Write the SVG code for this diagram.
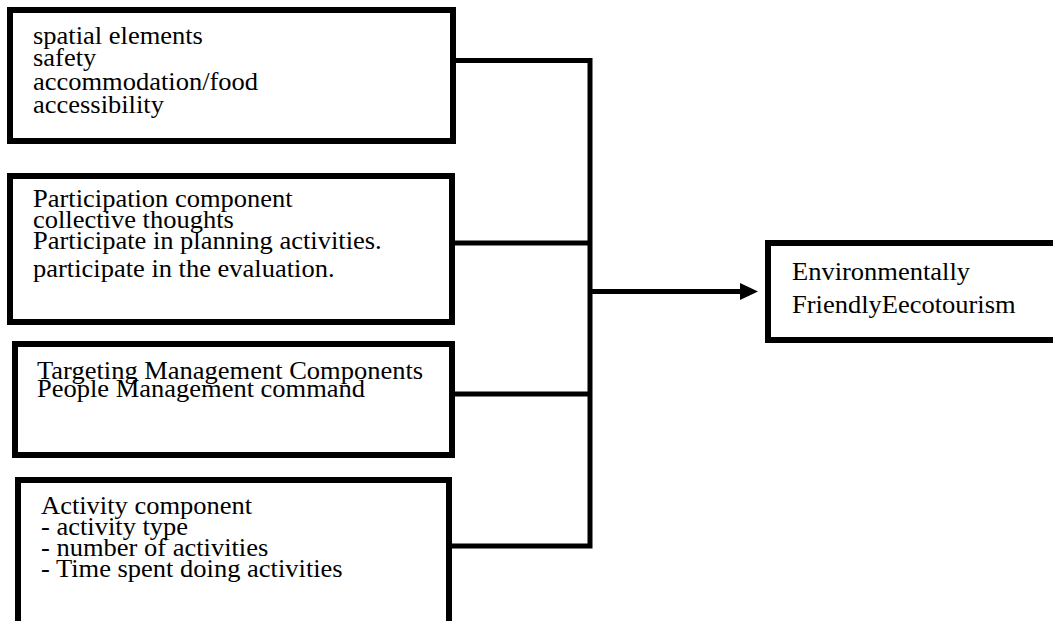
<svg xmlns="http://www.w3.org/2000/svg" width="1053" height="621" viewBox="0 0 1053 621">
<style>
.box{fill:#fff;stroke:#000;stroke-width:6}
.lbl{font-family:"Liberation Serif","Times New Roman",serif;font-size:25px;fill:#000}
.conn{fill:none;stroke:#000;stroke-width:5;stroke-linejoin:miter;stroke-linecap:butt}
</style>
<defs>
<marker id="arr" markerUnits="userSpaceOnUse" markerWidth="18" markerHeight="17" refX="2" refY="8.5" orient="auto">
<path d="M0,0 L18,8.5 L0,17 z" fill="#000"/>
</marker>
</defs>
<rect width="1053" height="621" fill="#fff"/>
<g id="connectors">
<path class="conn" d="M456 60.5 H590 V546 H452"/>
<path class="conn" d="M455 243 H590"/>
<path class="conn" d="M455 394 H590"/>
<path class="conn" d="M590 291.5 H742" marker-end="url(#arr)"/>
</g>
<g id="node1">
<rect class="box" x="10" y="10" width="443" height="131"/>
<g transform="translate(33,0) scale(1.06,1)" class="lbl">
<text x="0" y="44">spatial elements</text>
<text x="0" y="66">safety</text>
<text x="0" y="90">accommodation/food</text>
<text x="0" y="113">accessibility</text>
</g>
</g>
<g id="node2">
<rect class="box" x="10" y="176" width="442" height="146"/>
<g transform="translate(33,0) scale(1.06,1)" class="lbl">
<text x="0" y="207">Participation component</text>
<text x="0" y="228">collective thoughts</text>
<text x="0" y="249">Participate in planning activities.</text>
<text x="0" y="277">participate in the evaluation.</text>
</g>
</g>
<g id="node3">
<rect class="box" x="15" y="344" width="437" height="111"/>
<g transform="translate(37,0) scale(1.06,1)" class="lbl">
<text x="0" y="379">Targeting Management Components</text>
<text x="0" y="397">People Management command</text>
</g>
</g>
<g id="node4">
<rect class="box" x="18" y="480" width="431" height="170"/>
<g transform="translate(41,0) scale(1.06,1)" class="lbl">
<text x="0" y="514">Activity component</text>
<text x="0" y="535">- activity type</text>
<text x="0" y="556">- number of activities</text>
<text x="0" y="577">- Time spent doing activities</text>
</g>
</g>
<g id="node5">
<rect class="box" x="768" y="243" width="300" height="97"/>
<g transform="translate(792,0) scale(1.06,1)" class="lbl">
<text x="0" y="280">Environmentally</text>
<text x="0" y="313">FriendlyEecotourism</text>
</g>
</g>
</svg>
